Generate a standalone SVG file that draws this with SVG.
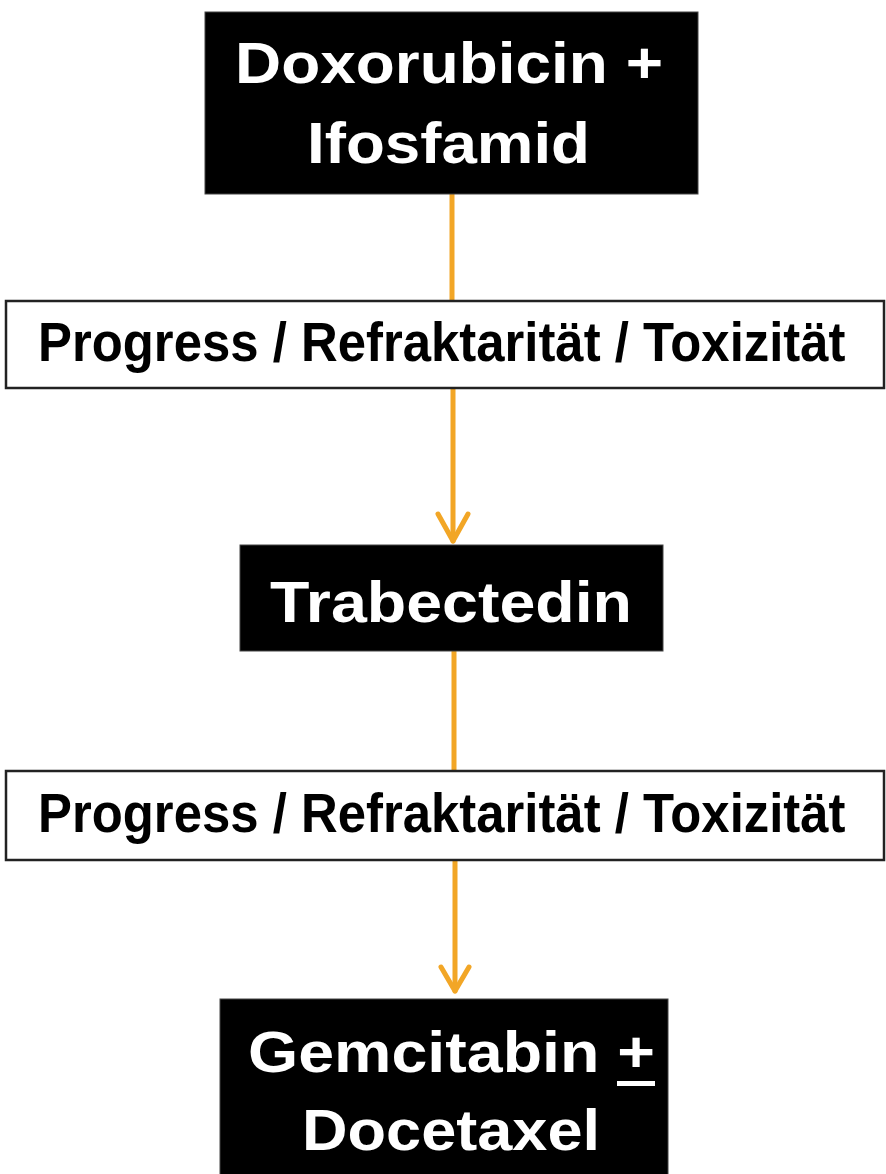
<svg xmlns="http://www.w3.org/2000/svg" width="886" height="1174" viewBox="0 0 886 1174">
<style>
.dark{fill:#000;stroke:#444;stroke-width:1}
.light{fill:#fff;stroke:#222;stroke-width:2.5}
.wt{fill:#fff;font-family:"Liberation Sans",Arial,sans-serif;font-weight:bold;font-size:57px}
.bt{fill:#000;font-family:"Liberation Sans",Arial,sans-serif;font-weight:bold;font-size:55px}
.conn{stroke:#F2A626;stroke-width:5;fill:none;stroke-linecap:round;stroke-linejoin:round}
</style>
<rect width="886" height="1174" fill="#fff"/>
<g id="connectors">
<line class="conn" x1="452" y1="194" x2="452" y2="300"/>
<line class="conn" x1="453" y1="389" x2="453" y2="541"/>
<polyline class="conn" points="438,514 453,541 468,514"/>
<line class="conn" x1="454" y1="651" x2="454" y2="770"/>
<line class="conn" x1="455" y1="861" x2="455" y2="991"/>
<polyline class="conn" points="441,967 455,991 469,967"/>
</g>
<g id="n1">
<rect class="dark" x="205" y="12" width="493" height="182"/>
<text class="wt" x="235" y="83" textLength="428" lengthAdjust="spacingAndGlyphs">Doxorubicin +</text>
<text class="wt" x="307" y="163" textLength="283" lengthAdjust="spacingAndGlyphs">Ifosfamid</text>
</g>
<g id="n2">
<rect class="light" x="6" y="301" width="878" height="87"/>
<text class="bt" transform="translate(38,361) scale(0.925,1)" x="0" y="0">Progress / Refraktarität / Toxizität</text>
</g>
<g id="n3">
<rect class="dark" x="240" y="545" width="423" height="106"/>
<text class="wt" x="270" y="622" textLength="362" lengthAdjust="spacingAndGlyphs">Trabectedin</text>
</g>
<g id="n4">
<rect class="light" x="6" y="771" width="878" height="89"/>
<text class="bt" transform="translate(38,832) scale(0.925,1)" x="0" y="0">Progress / Refraktarität / Toxizität</text>
</g>
<g id="n5">
<rect class="dark" x="220" y="999" width="448" height="180"/>
<text class="wt" x="248" y="1072" textLength="407" lengthAdjust="spacingAndGlyphs">Gemcitabin +</text>
<rect x="617" y="1081" width="38" height="5" fill="#fff"/>
<text class="wt" x="302" y="1150" textLength="298" lengthAdjust="spacingAndGlyphs">Docetaxel</text>
</g>
</svg>
